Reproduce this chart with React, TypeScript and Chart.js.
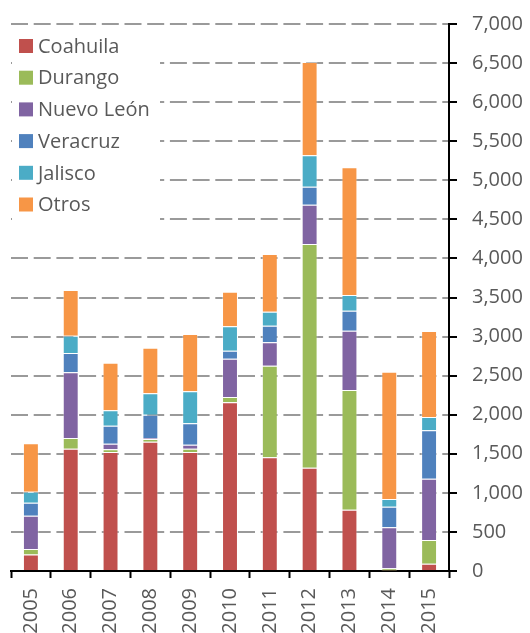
import React, { useEffect, useRef } from "react";
import { Chart, registerables } from "chart.js";

Chart.register(...registerables);

const years = ["2005", "2006", "2007", "2008", "2009", "2010", "2011", "2012", "2013", "2014", "2015"];
const coahuila = [210, 1565, 1523, 1655, 1523, 2159, 1455, 1322, 785, 5, 94];
const durango = [72, 137, 34, 34, 42, 68, 1173, 2863, 1531, 30, 303];
const nuevoLeon = [426, 841, 73, 13, 52, 490, 299, 503, 759, 524, 784];
const veracruz = [166, 247, 230, 299, 273, 103, 213, 230, 256, 264, 619];
const jalisco = [141, 221, 196, 273, 410, 311, 178, 402, 201, 98, 171];
const otros = [619, 586, 610, 584, 733, 444, 739, 1194, 1634, 1630, 1100];

const seriesNames = ["Coahuila", "Durango", "Nuevo León", "Veracruz", "Jalisco", "Otros"];
const seriesValues = [coahuila, durango, nuevoLeon, veracruz, jalisco, otros];
const seriesColors = ["#C0504D", "#9BBB59", "#8064A2", "#4F81BD", "#4BACC6", "#F79646"];

const FONT = '"Open Sans", "Noto Sans", sans-serif';
const TEXT = "#595959";

const insideLegend = {
  id: "insideLegend",
  beforeDatasetsDraw(chart: any) {
    const ctx = chart.ctx;
    const area = chart.chartArea;
    ctx.save();
    ctx.fillStyle = "#ffffff";
    ctx.fillRect(area.left + 1, 30, 148, 196);
    ctx.font = `20px ${FONT}`;
    ctx.textBaseline = "middle";
    ctx.textAlign = "left";
    chart.data.datasets.forEach((ds: any, i: number) => {
      const cy = 46 + i * 31.7;
      ctx.fillStyle = ds.backgroundColor;
      ctx.fillRect(19, cy - 7, 14, 14);
      ctx.fillStyle = TEXT;
      ctx.fillText(ds.label, 38, cy + 1);
    });
    ctx.restore();
  },
};

export default function App() {
  const ref = useRef<HTMLCanvasElement | null>(null);

  useEffect(() => {
    if (!ref.current) return;
    const chart = new Chart(ref.current, {
      type: "bar",
      data: {
        labels: years,
        datasets: seriesNames.map((name, i) => ({
          label: name,
          data: seriesValues[i],
          backgroundColor: seriesColors[i],
          borderColor: "rgba(255,255,255,0.35)",
          borderWidth: 1,
          categoryPercentage: 1,
          barPercentage: 0.4,
        })),
      },
      options: {
        responsive: false,
        animation: false,
        layout: { padding: { left: 11, top: 24, right: 0, bottom: 0 } },
        plugins: {
          legend: { display: false },
          tooltip: { enabled: false },
        },
        scales: {
          x: {
            stacked: true,
            afterFit: (s: any) => {
              s.height = 62;
              s.paddingLeft = 0;
              s.paddingRight = 0;
            },
            grid: {
              display: true,
              drawOnChartArea: false,
              drawTicks: true,
              tickLength: 7,
              tickColor: "#000",
              tickWidth: 2,
              offset: true,
            },
            border: { display: true, color: "#000", width: 2 },
            ticks: {
              color: TEXT,
              font: { family: FONT, size: 20 },
              minRotation: 90,
              maxRotation: 90,
              padding: 10,
              autoSkip: false,
            },
          },
          y: {
            stacked: true,
            position: "right",
            min: 0,
            max: 7000,
            afterFit: (s: any) => {
              s.width = 81;
              s.paddingTop = 0;
              s.paddingBottom = 0;
            },
            grid: {
              color: "#9a9a9a",
              lineWidth: 2,
              drawTicks: true,
              tickLength: 8,
              tickColor: "#000",
              tickWidth: 2,
            },
            border: { display: true, color: "#000", width: 2, dash: [17, 5.7] },
            ticks: {
              stepSize: 500,
              color: TEXT,
              font: { family: FONT, size: 20 },
              padding: 15,
              callback: (v: any) => Number(v).toLocaleString("en-US"),
            },
          },
        },
      },
      plugins: [insideLegend],
    });
    return () => chart.destroy();
  }, []);

  return (
    <div style={{ position: "absolute", left: 0, top: 0, width: 530, height: 633, background: "#fff" }}>
      <canvas ref={ref} width={530} height={633} style={{ display: "block" }} />
    </div>
  );
}
